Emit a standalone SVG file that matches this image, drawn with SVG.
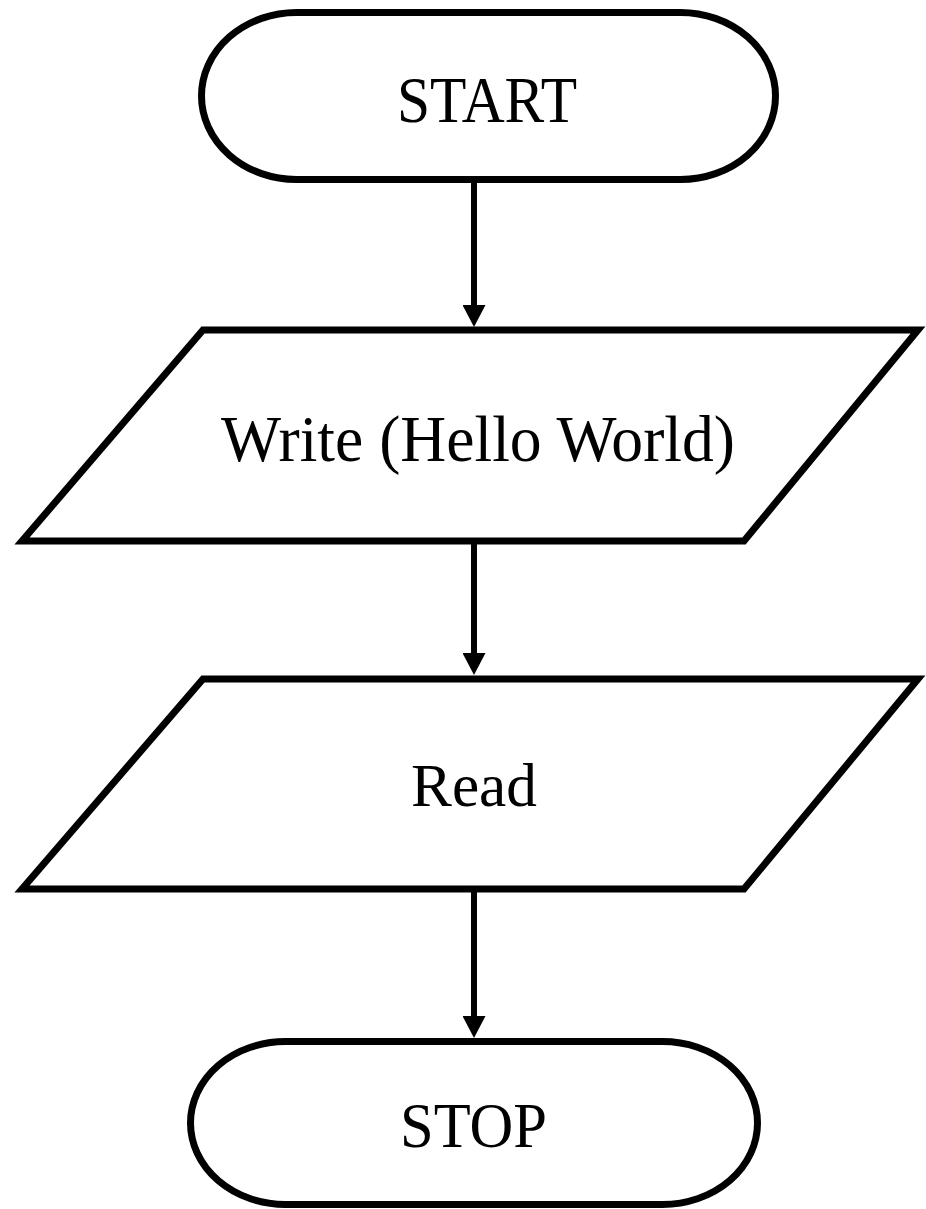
<svg xmlns="http://www.w3.org/2000/svg" width="926" height="1209" viewBox="0 0 926 1209">
<style>
.shape{fill:#ffffff;stroke:#000000;stroke-width:7;stroke-linejoin:miter}
.lbl{font-family:"Liberation Serif","Times New Roman",serif;fill:#000000}
.edge{stroke:#000000;stroke-width:6;fill:none}
</style>
<defs>
<marker id="arrow" markerUnits="userSpaceOnUse" markerWidth="23" markerHeight="23" viewBox="0 0 22 23" refX="1" refY="11.5" orient="auto">
<path d="M0,0 L22,11.5 L0,23 Z" fill="#000000"/>
</marker>
</defs>
<rect width="926" height="1209" fill="#ffffff"/>
<g id="connectors">
<line class="edge" x1="474" y1="182" x2="474" y2="306" marker-end="url(#arrow)"/>
<line class="edge" x1="474" y1="544" x2="474" y2="654" marker-end="url(#arrow)"/>
<line class="edge" x1="474" y1="892" x2="474" y2="1017" marker-end="url(#arrow)"/>
</g>
<g id="start">
<rect class="shape" x="201.5" y="12.5" width="574" height="167" rx="95" ry="83.5"/>
<text class="lbl" x="397" y="122" font-size="66" textLength="180" lengthAdjust="spacingAndGlyphs">START</text>
</g>
<g id="write">
<path class="shape" d="M203,330 L918,330 L744,541 L22,541 Z"/>
<text class="lbl" x="221" y="461" font-size="65" textLength="514" lengthAdjust="spacingAndGlyphs">Write (Hello World)</text>
</g>
<g id="read">
<path class="shape" d="M203,679 L918,679 L744,889 L22,889 Z"/>
<text class="lbl" x="411" y="806" font-size="61" textLength="126" lengthAdjust="spacingAndGlyphs">Read</text>
</g>
<g id="stop">
<rect class="shape" x="190.5" y="1041.5" width="567" height="163" rx="95" ry="81.5"/>
<text class="lbl" x="400" y="1147" font-size="63" textLength="147" lengthAdjust="spacingAndGlyphs">STOP</text>
</g>
</svg>
